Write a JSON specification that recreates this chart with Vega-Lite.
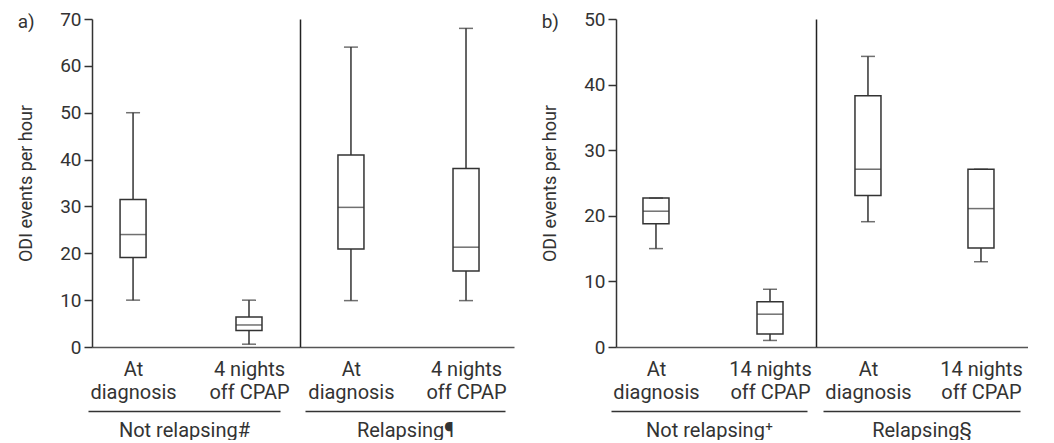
{
  "$schema": "https://vega.github.io/schema/vega-lite/v6.json",
  "background": "white",
  "padding": {"left": 17, "top": 10, "right": 0, "bottom": 0},
  "spacing": 27,
  "datasets": {
    "boxes": [
      {"panel": "a", "group": "Not relapsing", "cat": "At diagnosis", "min": 10, "q1": 19.1, "median": 24, "q3": 31.5, "max": 50},
      {"panel": "a", "group": "Not relapsing", "cat": "4 nights off CPAP", "min": 0.6, "q1": 3.5, "median": 4.7, "q3": 6.4, "max": 10},
      {"panel": "a", "group": "Relapsing", "cat": "At diagnosis", "min": 9.9, "q1": 20.9, "median": 29.8, "q3": 41, "max": 64},
      {"panel": "a", "group": "Relapsing", "cat": "4 nights off CPAP", "min": 9.9, "q1": 16.2, "median": 21.3, "q3": 38.1, "max": 68},
      {"panel": "b", "group": "Not relapsing", "cat": "At diagnosis", "min": 15, "q1": 18.8, "median": 20.7, "q3": 22.7, "max": 22.7},
      {"panel": "b", "group": "Not relapsing", "cat": "14 nights off CPAP", "min": 1, "q1": 2, "median": 5, "q3": 6.9, "max": 8.8},
      {"panel": "b", "group": "Relapsing", "cat": "At diagnosis", "min": 19.1, "q1": 23.1, "median": 27.1, "q3": 38.3, "max": 44.3},
      {"panel": "b", "group": "Relapsing", "cat": "14 nights off CPAP", "min": 13, "q1": 15.1, "median": 21.1, "q3": 27.1, "max": 27.1}
    ]
  },
  "hconcat": [
    {
      "title": {"text": "a)", "anchor": "start", "frame": "bounds", "fontSize": 19, "fontWeight": "normal", "color": "#333", "offset": -22},
      "bounds": "flush",
      "spacing": 0,
      "hconcat": [
        {
          "width": 208, "height": 328,
          "data": {"name": "boxes"},
          "transform": [{"filter": "datum.panel == 'a' && datum.group == 'Not relapsing'"}],
          "layer": [
            {
              "encoding": {
                "x": {"field": "cat", "type": "nominal", "sort": null, "scale": {"type": "point", "padding": 0.397, "align": 0.446},
                  "axis": {"title": null, "ticks": false, "labelAngle": 0, "labelPadding": 12, "labelFontSize": 20, "labelLineHeight": 23, "labelBaseline": "top", "labelExpr": "datum.label == 'At diagnosis' ? ['At', 'diagnosis'] : [slice(datum.label, 0, indexof(datum.label, ' off')), 'off CPAP']", "domainColor": "#555"}},
                "y": {"type": "quantitative", "scale": {"domain": [0, 70], "nice": false},
                  "axis": {"values": [0, 10, 20, 30, 40, 50, 60, 70], "title": "ODI events per hour", "titlePadding": 24}}
              },
              "layer": [
                {"mark": {"type": "rule", "color": "#333", "strokeWidth": 1.5}, "encoding": {"y": {"field": "min", "type": "quantitative"}, "y2": {"field": "max"}}},
                {"mark": {"type": "bar", "size": 26, "fill": "white", "stroke": "#333", "strokeWidth": 1.5}, "encoding": {"y": {"field": "q1", "type": "quantitative"}, "y2": {"field": "q3"}}},
                {"mark": {"type": "tick", "size": 26, "thickness": 1.5, "color": "#333"}, "encoding": {"y": {"field": "median", "type": "quantitative"}}},
                {"mark": {"type": "tick", "size": 14, "thickness": 1.5, "color": "#333"}, "encoding": {"y": {"field": "min", "type": "quantitative"}}},
                {"mark": {"type": "tick", "size": 14, "thickness": 1.5, "color": "#333"}, "encoding": {"y": {"field": "max", "type": "quantitative"}}}
              ]
            },
            {
              "mark": {"type": "text", "text": ""},
              "encoding": {"x": {"field": "group", "type": "nominal", "scale": {"type": "band", "range": [-4, 188]},
                "axis": {"orient": "bottom", "offset": 64, "labels": false, "ticks": false, "domainColor": "#333", "title": "Not relapsing#", "titleFontSize": 20, "titlePadding": 9}}}
            }
          ],
          "resolve": {"scale": {"x": "independent"}, "axis": {"x": "independent"}}
        },
        {
          "width": 214, "height": 328,
          "data": {"name": "boxes"},
          "transform": [{"filter": "datum.panel == 'a' && datum.group == 'Relapsing'"}],
          "layer": [
            {
              "encoding": {
                "x": {"field": "cat", "type": "nominal", "sort": null, "scale": {"type": "point", "padding": 0.43, "align": 0.515},
                  "axis": {"title": null, "ticks": false, "labelAngle": 0, "labelPadding": 12, "labelFontSize": 20, "labelLineHeight": 23, "labelBaseline": "top", "labelExpr": "datum.label == 'At diagnosis' ? ['At', 'diagnosis'] : [slice(datum.label, 0, indexof(datum.label, ' off')), 'off CPAP']", "domainColor": "#555"}},
                "y": {"type": "quantitative", "scale": {"domain": [0, 70], "nice": false},
                  "axis": {"labels": false, "ticks": false, "title": null, "domainColor": "#222"}}
              },
              "layer": [
                {"mark": {"type": "rule", "color": "#333", "strokeWidth": 1.5}, "encoding": {"y": {"field": "min", "type": "quantitative"}, "y2": {"field": "max"}}},
                {"mark": {"type": "bar", "size": 26, "fill": "white", "stroke": "#333", "strokeWidth": 1.5}, "encoding": {"y": {"field": "q1", "type": "quantitative"}, "y2": {"field": "q3"}}},
                {"mark": {"type": "tick", "size": 26, "thickness": 1.5, "color": "#333"}, "encoding": {"y": {"field": "median", "type": "quantitative"}}},
                {"mark": {"type": "tick", "size": 14, "thickness": 1.5, "color": "#333"}, "encoding": {"y": {"field": "min", "type": "quantitative"}}},
                {"mark": {"type": "tick", "size": 14, "thickness": 1.5, "color": "#333"}, "encoding": {"y": {"field": "max", "type": "quantitative"}}}
              ]
            },
            {
              "mark": {"type": "text", "text": ""},
              "encoding": {"x": {"field": "group", "type": "nominal", "scale": {"type": "band", "range": [5, 205]},
                "axis": {"orient": "bottom", "offset": 64, "labels": false, "ticks": false, "domainColor": "#333", "title": "Relapsing¶", "titleFontSize": 20, "titlePadding": 9}}}
            }
          ],
          "resolve": {"scale": {"x": "independent"}, "axis": {"x": "independent"}}
        }
      ]
    },
    {
      "title": {"text": "b)", "anchor": "start", "frame": "bounds", "fontSize": 19, "fontWeight": "normal", "color": "#333", "offset": -22},
      "bounds": "flush",
      "spacing": 0,
      "hconcat": [
        {
          "width": 200, "height": 328,
          "data": {"name": "boxes"},
          "transform": [{"filter": "datum.panel == 'b' && datum.group == 'Not relapsing'"}],
          "layer": [
            {
              "encoding": {
                "x": {"field": "cat", "type": "nominal", "sort": null, "scale": {"type": "point", "padding": 0.377, "align": 0.465},
                  "axis": {"title": null, "ticks": false, "labelAngle": 0, "labelPadding": 12, "labelFontSize": 20, "labelLineHeight": 23, "labelBaseline": "top", "labelExpr": "datum.label == 'At diagnosis' ? ['At', 'diagnosis'] : [slice(datum.label, 0, indexof(datum.label, ' off')), 'off CPAP']", "domainColor": "#555"}},
                "y": {"type": "quantitative", "scale": {"domain": [0, 50], "nice": false},
                  "axis": {"values": [0, 10, 20, 30, 40, 50], "title": "ODI events per hour", "titlePadding": 24}}
              },
              "layer": [
                {"mark": {"type": "rule", "color": "#333", "strokeWidth": 1.5}, "encoding": {"y": {"field": "min", "type": "quantitative"}, "y2": {"field": "max"}}},
                {"mark": {"type": "bar", "size": 26, "fill": "white", "stroke": "#333", "strokeWidth": 1.5}, "encoding": {"y": {"field": "q1", "type": "quantitative"}, "y2": {"field": "q3"}}},
                {"mark": {"type": "tick", "size": 26, "thickness": 1.5, "color": "#333"}, "encoding": {"y": {"field": "median", "type": "quantitative"}}},
                {"mark": {"type": "tick", "size": 14, "thickness": 1.5, "color": "#333"}, "encoding": {"y": {"field": "min", "type": "quantitative"}}},
                {"mark": {"type": "tick", "size": 14, "thickness": 1.5, "color": "#333"}, "encoding": {"y": {"field": "max", "type": "quantitative"}}}
              ]
            },
            {
              "mark": {"type": "text", "text": ""},
              "encoding": {"x": {"field": "group", "type": "nominal", "scale": {"type": "band", "range": [-5, 191]},
                "axis": {"orient": "bottom", "offset": 64, "labels": false, "ticks": false, "domainColor": "#333", "title": "Not relapsing⁺", "titleFontSize": 20, "titlePadding": 9}}}
            }
          ],
          "resolve": {"scale": {"x": "independent"}, "axis": {"x": "independent"}}
        },
        {
          "width": 212, "height": 328,
          "data": {"name": "boxes"},
          "transform": [{"filter": "datum.panel == 'b' && datum.group == 'Relapsing'"}],
          "layer": [
            {
              "encoding": {
                "x": {"field": "cat", "type": "nominal", "sort": null, "scale": {"type": "point", "padding": 0.438, "align": 0.525},
                  "axis": {"title": null, "ticks": false, "labelAngle": 0, "labelPadding": 12, "labelFontSize": 20, "labelLineHeight": 23, "labelBaseline": "top", "labelExpr": "datum.label == 'At diagnosis' ? ['At', 'diagnosis'] : [slice(datum.label, 0, indexof(datum.label, ' off')), 'off CPAP']", "domainColor": "#555"}},
                "y": {"type": "quantitative", "scale": {"domain": [0, 50], "nice": false},
                  "axis": {"labels": false, "ticks": false, "title": null, "domainColor": "#222"}}
              },
              "layer": [
                {"mark": {"type": "rule", "color": "#333", "strokeWidth": 1.5}, "encoding": {"y": {"field": "min", "type": "quantitative"}, "y2": {"field": "max"}}},
                {"mark": {"type": "bar", "size": 26, "fill": "white", "stroke": "#333", "strokeWidth": 1.5}, "encoding": {"y": {"field": "q1", "type": "quantitative"}, "y2": {"field": "q3"}}},
                {"mark": {"type": "tick", "size": 26, "thickness": 1.5, "color": "#333"}, "encoding": {"y": {"field": "median", "type": "quantitative"}}},
                {"mark": {"type": "tick", "size": 14, "thickness": 1.5, "color": "#333"}, "encoding": {"y": {"field": "min", "type": "quantitative"}}},
                {"mark": {"type": "tick", "size": 14, "thickness": 1.5, "color": "#333"}, "encoding": {"y": {"field": "max", "type": "quantitative"}}}
              ]
            },
            {
              "mark": {"type": "text", "text": ""},
              "encoding": {"x": {"field": "group", "type": "nominal", "scale": {"type": "band", "range": [7, 204]},
                "axis": {"orient": "bottom", "offset": 64, "labels": false, "ticks": false, "domainColor": "#333", "title": "Relapsing§", "titleFontSize": 20, "titlePadding": 9}}}
            }
          ],
          "resolve": {"scale": {"x": "independent"}, "axis": {"x": "independent"}}
        }
      ]
    }
  ],
  "config": {
    "font": "Roboto",
    "view": {"stroke": null},
    "axis": {
      "grid": false,
      "labelFont": "Roboto", "labelFontSize": 19, "labelColor": "#333",
      "titleFont": "Roboto", "titleFontSize": 18, "titleFontWeight": "normal", "titleColor": "#333",
      "domainWidth": 1.5, "domainColor": "#333",
      "tickColor": "#333", "tickWidth": 1.5, "tickSize": 8,
      "labelPadding": 3, "labelOverlap": false
    }
  }
}
